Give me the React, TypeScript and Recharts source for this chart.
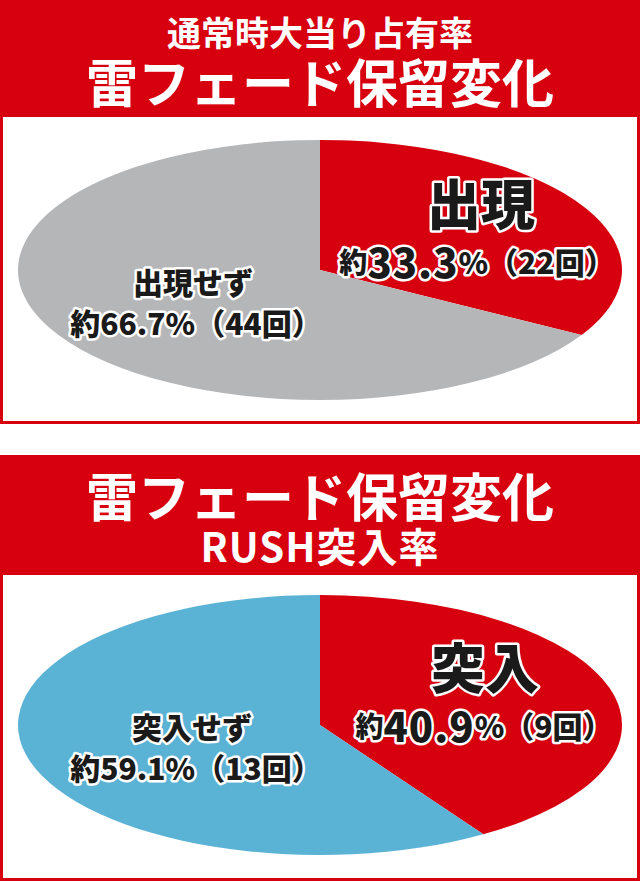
import { Pie, PieChart } from "recharts";

// 通常時大当り占有率
const appearNames = ["出現", "出現せず"];
const appearCounts = [22, 44];
const appearPercents = ["33.3", "66.7"];

// RUSH突入率
const rushNames = ["突入", "突入せず"];
const rushCounts = [9, 13];
const rushPercents = ["40.9", "59.1"];

const RED = "#d7000f";
const GRAY = "#b5b6b8";
const BLUE = "#5ab2d5";
const INK = "#1a1a1a";
const FONT = '"Noto Sans CJK JP", "Noto Sans", sans-serif';

const RX = 302;
const RY = 130;
const RAD = Math.PI / 180;

// 楕円の扇形: 半径はライブラリの outerRadius、縦だけ RY/RX に潰す
function EllipseSector(props: any) {
  const { cx, cy, outerRadius, startAngle, endAngle, fill } = props;
  const ry = outerRadius * (RY / RX);
  const pt = (a: number) => [
    cx + outerRadius * Math.cos(-a * RAD),
    cy + ry * Math.sin(-a * RAD),
  ];
  const [x0, y0] = pt(startAngle);
  const [x1, y1] = pt(endAngle);
  const large = Math.abs(endAngle - startAngle) > 180 ? 1 : 0;
  const sweep = startAngle > endAngle ? 1 : 0;
  return (
    <path
      d={`M${cx},${cy} L${x0},${y0} A${outerRadius},${ry} 0 ${large} ${sweep} ${x1},${y1} Z`}
      fill={fill}
    />
  );
}

const outline = {
  stroke: "#fff",
  strokeWidth: 5,
  strokeLinejoin: "round" as const,
  paintOrder: "stroke" as const,
  fill: INK,
  fontFamily: FONT,
  fontWeight: 900,
};

// ラベル位置 (中心からのずれ)
type Spot = { nx: number; ny: number; lx: number; ly: number };

function makeLabel(names: string[], counts: number[], percents: string[], spots: Spot[]) {
  return (p: any) => {
    const i = p.index;
    const s = spots[i];
    const x = p.cx;
    const y = p.cy;
    if (i === 0) {
      return (
        <g key={`l${i}`}>
          <text x={x + s.nx} y={y + s.ny} textAnchor="middle" dominantBaseline="central" fontSize={54} style={outline}>
            {names[i]}
          </text>
          <text x={x + s.lx} y={y + s.ly} textAnchor="middle" dominantBaseline="central" style={outline}>
            <tspan fontSize={28}>約</tspan>
            <tspan fontSize={40} letterSpacing={1}>{percents[i]}</tspan>
            <tspan fontSize={30}>%（{counts[i]}回）</tspan>
          </text>
        </g>
      );
    }
    return (
      <g key={`l${i}`}>
        <text x={x + s.nx} y={y + s.ny} textAnchor="middle" dominantBaseline="central" fontSize={30} style={outline}>
          {names[i]}
        </text>
        <text x={x + s.lx} y={y + s.ly} textAnchor="middle" dominantBaseline="central" fontSize={30} style={outline}>
          約{percents[i]}%（{counts[i]}回）
        </text>
      </g>
    );
  };
}

function EllipsePie({
  names,
  counts,
  percents,
  colors,
  cy,
  spots,
}: {
  names: string[];
  counts: number[];
  percents: string[];
  colors: string[];
  cy: number;
  spots: Spot[];
}) {
  const data = names.map((name, i) => ({ name, value: counts[i], fill: colors[i] }));
  return (
    <PieChart width={634} height={304} margin={{ top: 0, right: 0, bottom: 0, left: 0 }}>
      <Pie
        data={data}
        dataKey="value"
        nameKey="name"
        cx={317}
        cy={cy}
        outerRadius={RX}
        startAngle={90}
        endAngle={-270}
        stroke="none"
        shape={EllipseSector}
        inactiveShape={EllipseSector}
        activeShape={EllipseSector}
        label={makeLabel(names, counts, percents, spots)}
        labelLine={false}
        isAnimationActive={false}
      />
    </PieChart>
  );
}

function Header({ top, height, lines }: { top: number; height: number; lines: { text: string; y: number; size: number; spacing?: number }[] }) {
  return (
    <div style={{ position: "absolute", left: 0, top, width: 640, height, background: RED }}>
      {lines.map((l) => {
        const h = Math.round(l.size * 1.1);
        return (
          <div
            key={l.text}
            style={{
              position: "absolute",
              left: 0,
              width: 640,
              top: l.y - h / 2,
              height: h,
              lineHeight: `${h}px`,
              textAlign: "center",
              color: "#fff",
              fontFamily: FONT,
              fontWeight: 700,
              fontSize: l.size,
              letterSpacing: l.spacing ?? 0,
              whiteSpace: "nowrap",
            }}
          >
            {l.text}
          </div>
        );
      })}
    </div>
  );
}

function Box({ top, height, children }: { top: number; height: number; children: any }) {
  return (
    <div
      style={{
        position: "absolute",
        left: 0,
        top,
        width: 640,
        height,
        boxSizing: "border-box",
        border: `3px solid ${RED}`,
        borderTop: "none",
        background: "#fff",
      }}
    >
      {children}
    </div>
  );
}

export default function App() {
  return (
    <div style={{ position: "absolute", left: 0, top: 0, width: 640, height: 881, background: "#fff", overflow: "hidden" }}>
      <Header
        top={0}
        height={117}
        lines={[
          { text: "通常時大当り占有率", y: 31, size: 34 },
          { text: "雷フェード保留変化", y: 80, size: 52 },
        ]}
      />
      <Box top={117} height={307}>
        <EllipsePie
          names={appearNames}
          counts={appearCounts}
          percents={appearPercents}
          colors={[RED, GRAY]}
          cy={153}
          spots={[
            { nx: 161, ny: -69, lx: 157, ly: -9 },
            { nx: -127, ny: 11, lx: -124, ly: 52 },
          ]}
        />
      </Box>
      <Header
        top={455}
        height={120}
        lines={[
          { text: "雷フェード保留変化", y: 39, size: 52 },
          { text: "RUSH突入率", y: 90, size: 40, spacing: 1 },
        ]}
      />
      <Box top={575} height={306}>
        <EllipsePie
          names={rushNames}
          counts={rushCounts}
          percents={rushPercents}
          colors={[RED, BLUE]}
          cy={150}
          spots={[
            { nx: 165, ny: -60, lx: 164, ly: 0 },
            { nx: -128, ny: 1, lx: -124, ly: 42 },
          ]}
        />
      </Box>
    </div>
  );
}
